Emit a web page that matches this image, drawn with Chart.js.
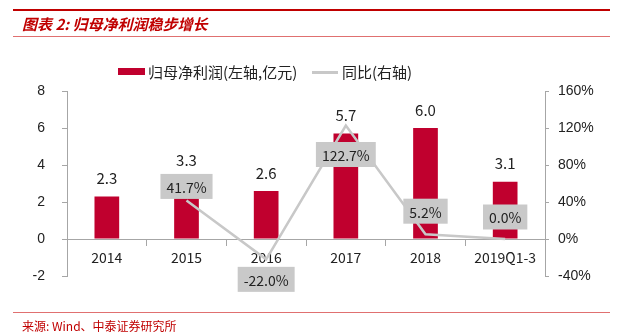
<!DOCTYPE html>
<html>
<head>
<meta charset="utf-8">
<script src="https://cdn.jsdelivr.net/npm/chart.js@4.4.0/dist/chart.umd.min.js"></script>
<style>
    body { margin: 0; background: #fff; }
    #wrap { position: relative; width: 618px; height: 335px; overflow: hidden; font-family: "Noto Sans CJK SC", sans-serif; }
    #wrap canvas { position: absolute; left: 0; top: 0; }
    .rule-top { position: absolute; left: 13px; width: 597px; top: 9px; height: 2px; background: #c00000; }
    .rule-mid { position: absolute; left: 13px; width: 597px; top: 36px; height: 1px; background: #e07070; }
    .rule-bot { position: absolute; left: 13px; width: 597px; top: 312px; height: 1px; background: #e07070; }
    .title { position: absolute; left: 22px; top: 14px; font-size: 15px; line-height: 20px; font-weight: bold; font-style: italic; color: #c00000; }
    .source { position: absolute; left: 22px; top: 318px; font-size: 12px; line-height: 16px; color: #c00000; }
    .legend { position: absolute; top: 62px; font-size: 15px; line-height: 20px; color: #222; }
    .sw-bar { position: absolute; left: 118px; top: 68px; width: 27px; height: 7px; background: #c0002e; }
    .sw-line { position: absolute; left: 312px; top: 71px; width: 26px; height: 3px; background: #c8c8c8; }
</style>
</head>
<body>
<div id="wrap">
    <canvas id="chart" width="618" height="335"></canvas>
    <div class="rule-top"></div>
    <div class="title">图表 2: 归母净利润稳步增长</div>
    <div class="rule-mid"></div>
    <div class="sw-bar"></div>
    <div class="legend" style="left:148px;">归母净利润(左轴,亿元)</div>
    <div class="sw-line"></div>
    <div class="legend" style="left:342px;">同比(右轴)</div>
    <div class="rule-bot"></div>
    <div class="source">来源: Wind、中泰证券研究所</div>
</div>
<script>
    const categories = ["2014", "2015", "2016", "2017", "2018", "2019Q1-3"];
    const netProfit = [2.3, 3.3, 2.6, 5.7, 6.0, 3.1];          // 亿元, left axis
    const yoyGrowth = [null, 41.7, -22.0, 122.7, 5.2, 0.0];    // %, right axis
    const leftTicks = [-2, 0, 2, 4, 6, 8];
    const rightTicks = [-40, 0, 40, 80, 120, 160];

    // vertical nudge of the growth labels relative to their point
    const growthLabelDy = [0, -14, 20, 29, -23, -22];

    const axisGray = "#a6a6a6";
    const tickFont = { family: "'Liberation Sans', Arial, sans-serif", size: 14 };

    // draws the numbers above the bars and the grey boxes on the line
    const valueLabels = {
        id: "valueLabels",
        afterDatasetsDraw(chart) {
            const ctx = chart.ctx;
            ctx.save();
            ctx.textAlign = "center";
            ctx.textBaseline = "middle";

            const barMeta = chart.getDatasetMeta(0);
            ctx.font = "15px 'Noto Sans CJK SC', sans-serif";
            ctx.fillStyle = "#222";
            barMeta.data.forEach((bar, i) => {
                ctx.fillText(netProfit[i].toFixed(1), bar.x, bar.y - 18);
            });

            const lineMeta = chart.getDatasetMeta(1);
            ctx.font = "14px 'Noto Sans CJK SC', sans-serif";
            lineMeta.data.forEach((pt, i) => {
                if (yoyGrowth[i] === null) return;
                const text = yoyGrowth[i].toFixed(1) + "%";
                const w = ctx.measureText(text).width + 12;
                const h = 25;
                const cy = pt.y + growthLabelDy[i];
                ctx.fillStyle = "#c9c9c9";
                ctx.fillRect(pt.x - w / 2, cy - h / 2, w, h);
                ctx.fillStyle = "#222";
                ctx.fillText(text, pt.x, cy + 1);
            });
            ctx.restore();
        }
    };

    new Chart(document.getElementById("chart"), {
        data: {
            labels: categories,
            datasets: [
                {
                    type: "bar",
                    label: "归母净利润(左轴,亿元)",
                    data: netProfit,
                    yAxisID: "y",
                    backgroundColor: "#c0002e",
                    barPercentage: 0.31,
                    categoryPercentage: 1,
                    order: 2
                },
                {
                    type: "line",
                    label: "同比(右轴)",
                    data: yoyGrowth,
                    yAxisID: "y1",
                    borderColor: "#c8c8c8",
                    borderWidth: 2.5,
                    pointRadius: 0,
                    tension: 0,
                    order: 1
                }
            ]
        },
        options: {
            responsive: false,
            animation: false,
            layout: { padding: { top: 91, bottom: 59, left: 0, right: 0 } },
            plugins: {
                legend: { display: false },
                tooltip: { enabled: false }
            },
            scales: {
                x: {
                    position: { y: 0 },
                    afterFit: function(scale) { scale.height = 0; },
                    grid: { offset: true, drawOnChartArea: false, drawTicks: true, tickLength: 6, color: axisGray },
                    border: { color: axisGray, width: 1 },
                    ticks: { color: "#222", padding: 4, font: { family: "'Noto Sans CJK SC', sans-serif", size: 14 }, maxRotation: 0 }
                },
                y: {
                    position: "left",
                    min: leftTicks[0],
                    max: leftTicks[leftTicks.length - 1],
                    afterBuildTicks: function(scale) { scale.ticks = leftTicks.map(v => ({ value: v })); },
                    afterFit: function(scale) { scale.width = 67; },
                    grid: { drawOnChartArea: false, drawTicks: true, tickLength: 5, color: axisGray },
                    border: { color: axisGray, width: 1 },
                    ticks: { color: "#222", padding: 17, font: tickFont }
                },
                y1: {
                    position: "right",
                    min: rightTicks[0],
                    max: rightTicks[rightTicks.length - 1],
                    afterBuildTicks: function(scale) { scale.ticks = rightTicks.map(v => ({ value: v })); },
                    afterFit: function(scale) { scale.width = 73; },
                    grid: { drawOnChartArea: false, drawTicks: true, tickLength: 4, color: axisGray },
                    border: { color: axisGray, width: 1 },
                    ticks: {
                        color: "#222",
                        padding: 9,
                        font: tickFont,
                        callback: function(v) { return v + "%"; }
                    }
                }
            }
        },
        plugins: [valueLabels]
    });
</script>
</body>
</html>
